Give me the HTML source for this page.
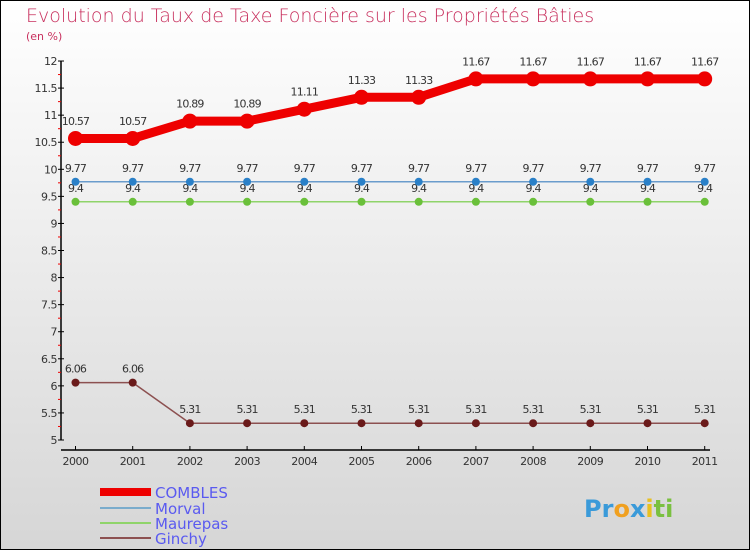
<!DOCTYPE html>
<html><head><meta charset="utf-8"><style>
body{margin:0}
#c{width:750px;height:550px;position:relative;overflow:hidden;font-family:"DejaVu Sans","Liberation Sans",sans-serif}
</style></head><body>
<div id="c">
<svg width="750" height="550" xmlns="http://www.w3.org/2000/svg">
<defs><linearGradient id="bg" x1="0" y1="0" x2="0" y2="1"><stop offset="0" stop-color="#ffffff"/><stop offset="1" stop-color="#d6d6d6"/></linearGradient></defs>
<rect x="0.5" y="0.5" width="749" height="549" fill="url(#bg)" stroke="#000"/>
<text x="26" y="22" font-size="19" fill="#c8305e" font-weight="200">Evolution du Taux de Taxe Foncière sur les Propriétés Bâties</text>
<text x="26" y="40" font-size="11" fill="#c8305e">(en %)</text>
<g id="axes"></g>
<g id="series"></g>
<g id="legend" font-size="15" fill="#5a5af0">
<rect x="100" y="488" width="51" height="8" fill="#e00"/>
<text x="155" y="498">COMBLES</text>
<rect x="100" y="507" width="51" height="2" fill="#7aaccc"/>
<text x="155" y="514">Morval</text>
<rect x="100" y="522" width="51" height="2" fill="#8fd46a"/>
<text x="155" y="529">Maurepas</text>
<rect x="100" y="537" width="51" height="2" fill="#8c5050"/>
<text x="155" y="544">Ginchy</text>
</g>
<text x="584" y="517" font-size="24" font-weight="bold"><tspan fill="#3a9ad9">Pr</tspan><tspan fill="#f0a020">o</tspan><tspan fill="#3a9ad9">x</tspan><tspan fill="#e8c020">i</tspan><tspan fill="#7ac040">ti</tspan></text>
</svg>
</div>
<script>
const years=[2000,2001,2002,2003,2004,2005,2006,2007,2008,2009,2010,2011];
const combles=[10.57,10.57,10.89,10.89,11.11,11.33,11.33,11.67,11.67,11.67,11.67,11.67];
const morval=[9.77,9.77,9.77,9.77,9.77,9.77,9.77,9.77,9.77,9.77,9.77,9.77];
const maurepas=[9.4,9.4,9.4,9.4,9.4,9.4,9.4,9.4,9.4,9.4,9.4,9.4];
const ginchy=[6.06,6.06,5.31,5.31,5.31,5.31,5.31,5.31,5.31,5.31,5.31,5.31];
const yTicks=[5,5.5,6,6.5,7,7.5,8,8.5,9,9.5,10,10.5,11,11.5,12];
const NS="http://www.w3.org/2000/svg";
const X=i=>75.5+i*57.2;
const Y=v=>440-(v-5)*54.14;
function mk(p,t,a){const e=document.createElementNS(NS,t);for(const k in a)e.setAttribute(k,a[k]);p.appendChild(e);return e;}
const ax=document.getElementById('axes');
let e=mk(ax,'line',{x1:61,y1:Y(12),x2:61,y2:Y(5),stroke:'#000','stroke-width':1.5});


e=mk(ax,'line',{x1:61,y1:450,x2:710,y2:450,stroke:'#000','stroke-width':1.5});


yTicks.forEach(v=>{
 mk(ax,'line',{x1:58,x2:64,y1:Y(v),y2:Y(v),stroke:'#000'});
 if(v<12){mk(ax,'line',{x1:58,x2:61,y1:Y(v+0.25),y2:Y(v+0.25),stroke:'#e00'});}
 const t=mk(ax,'text',{x:57,y:Y(v)+4,'font-size':11,'text-anchor':'end',fill:'#333','letter-spacing':'-0.5'});
 t.textContent=v;
 
 
});
years.forEach((y,i)=>{
 mk(ax,'line',{x1:X(i),x2:X(i),y1:446,y2:450,stroke:'#000'});
 const t=mk(ax,'text',{x:X(i),y:465,'font-size':11,'text-anchor':'middle',fill:'#333','letter-spacing':'-0.5'});
 t.textContent=y;
 
 
});
const sg=document.getElementById('series');
function draw(name,data,color,w,r,dot){
 const g=mk(sg,'g',{});
 
 
 const pl=mk(g,'polyline',{points:data.map((v,i)=>X(i)+','+Y(v)).join(' '),fill:'none',stroke:color,'stroke-width':w});
 
 
 data.forEach((v,i)=>{
  const c=mk(g,'circle',{cx:X(i),cy:Y(v),r:r,fill:dot});
  
  
  const t=mk(g,'text',{x:X(i),y:Y(v)-(r+6),'font-size':11,'text-anchor':'middle',fill:'#333','letter-spacing':'-0.8'});
  t.textContent=v;
  
  
 });
}
draw('ginchy',ginchy,'#8c5050',1.5,4,'#6a1a1a');
draw('maurepas',maurepas,'#8fd46a',1.5,4,'#6ac03a');
draw('morval',morval,'#6a9ccc',1.5,4,'#2a80c8');
draw('combles',combles,'#ee0000',9,7.5,'#ee0000');
</script>
</body></html>
